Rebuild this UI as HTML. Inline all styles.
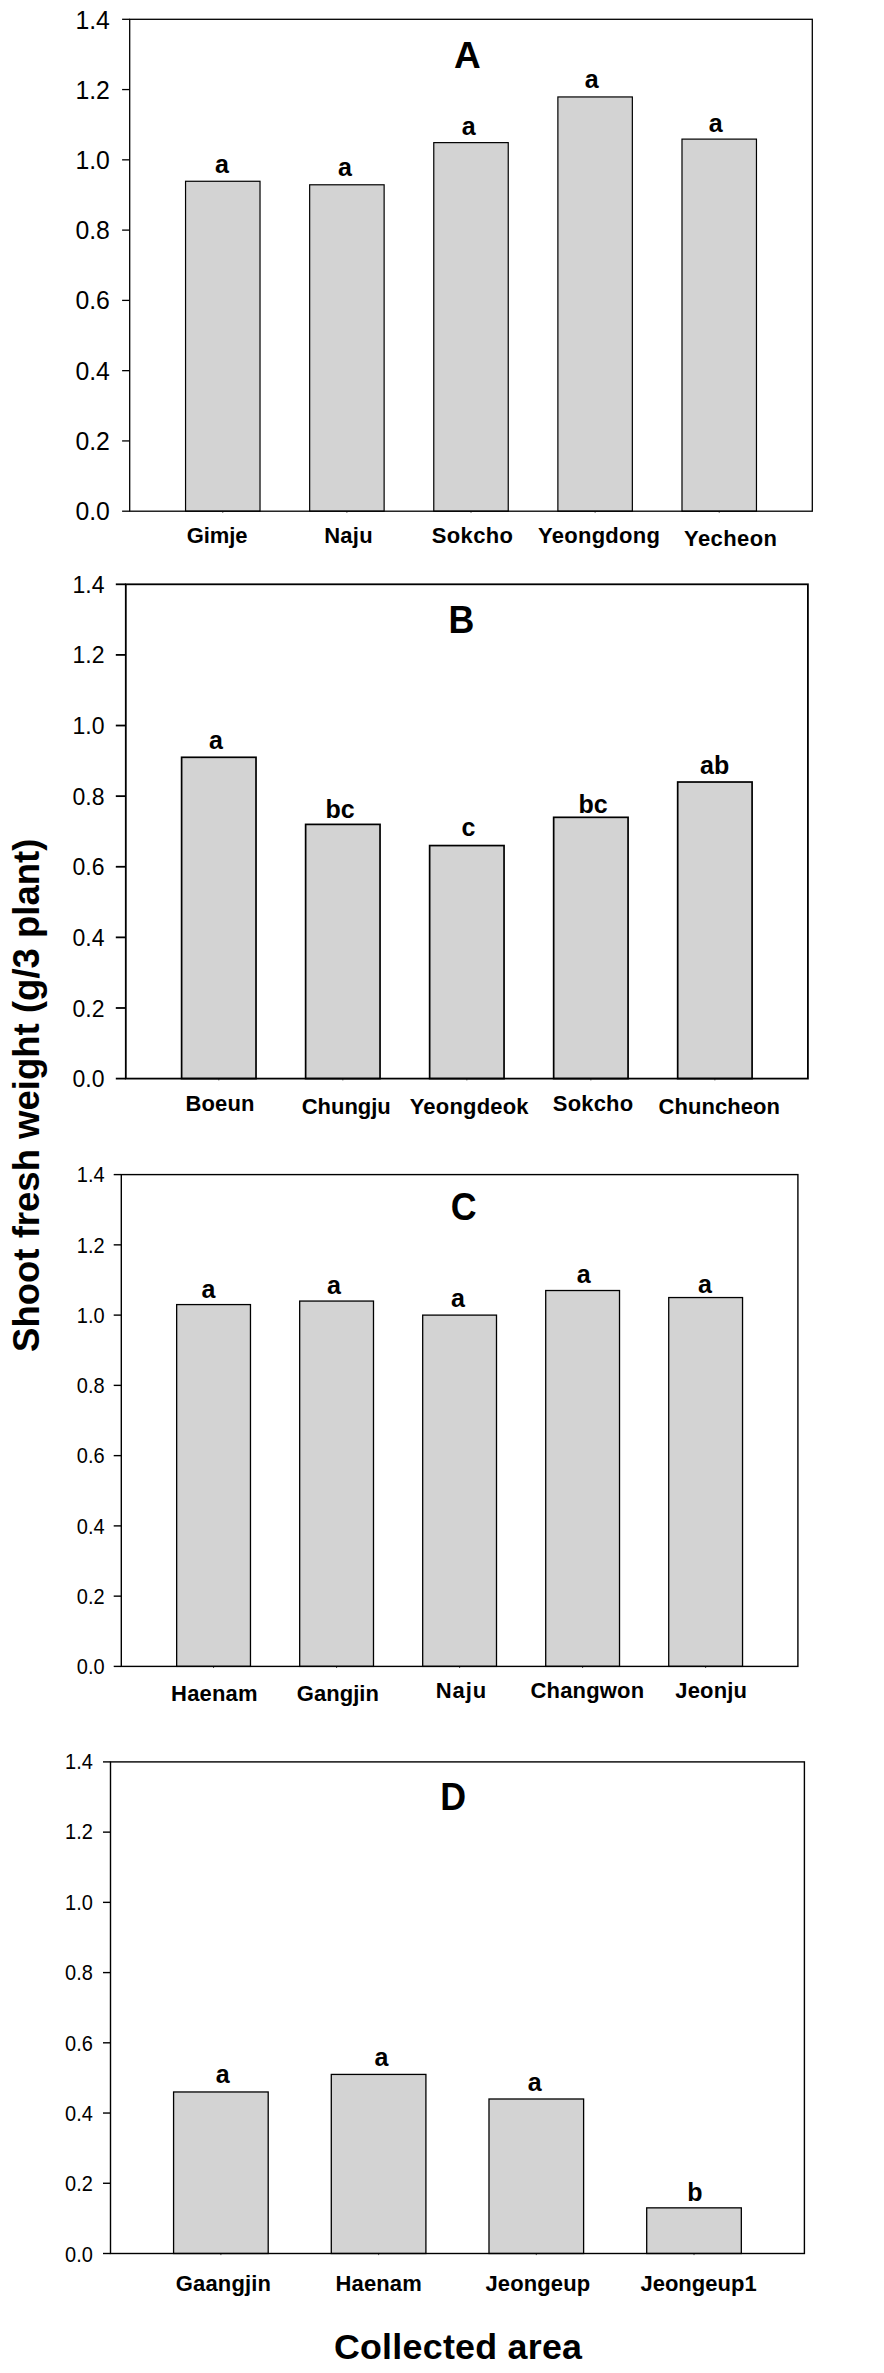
<!DOCTYPE html>
<html lang="en">
<head>
<meta charset="utf-8">
<title>Shoot fresh weight by collected area</title>
<style>
html,body{margin:0;padding:0;background:#fff;}
body{width:884px;height:2373px;overflow:hidden;}
svg{display:block;}
text{font-family:"Liberation Sans", sans-serif;fill:#000;}
.b{font-weight:bold;}
</style>
</head>
<body>
<svg width="884" height="2373" viewBox="0 0 884 2373">
<rect x="0" y="0" width="884" height="2373" fill="#ffffff"/>
<g id="chartA">
<rect x="185.55" y="181.27" width="74.47" height="329.93" fill="#d3d3d3" stroke="#000" stroke-width="1.20"/>
<rect x="309.66" y="184.79" width="74.47" height="326.41" fill="#d3d3d3" stroke="#000" stroke-width="1.20"/>
<rect x="433.77" y="142.62" width="74.47" height="368.58" fill="#d3d3d3" stroke="#000" stroke-width="1.20"/>
<rect x="557.88" y="96.95" width="74.47" height="414.25" fill="#d3d3d3" stroke="#000" stroke-width="1.20"/>
<rect x="681.99" y="139.11" width="74.47" height="372.09" fill="#d3d3d3" stroke="#000" stroke-width="1.20"/>
<line x1="222.78" y1="511.20" x2="222.78" y2="512.75" stroke="#444" stroke-width="1"/>
<line x1="346.89" y1="511.20" x2="346.89" y2="512.75" stroke="#444" stroke-width="1"/>
<line x1="471.00" y1="511.20" x2="471.00" y2="512.75" stroke="#444" stroke-width="1"/>
<line x1="595.11" y1="511.20" x2="595.11" y2="512.75" stroke="#444" stroke-width="1"/>
<line x1="719.22" y1="511.20" x2="719.22" y2="512.75" stroke="#444" stroke-width="1"/>
<rect x="129.70" y="19.30" width="682.60" height="491.90" fill="none" stroke="#000" stroke-width="1.30"/>
<line x1="122.10" y1="511.20" x2="129.70" y2="511.20" stroke="#000" stroke-width="1.30"/>
<text transform="translate(109.91,519.82) scale(1,1.045)" font-size="24.80" text-anchor="end">0.0</text>
<line x1="122.10" y1="440.93" x2="129.70" y2="440.93" stroke="#000" stroke-width="1.30"/>
<text transform="translate(109.91,449.69) scale(1,1.045)" font-size="24.80" text-anchor="end">0.2</text>
<line x1="122.10" y1="370.66" x2="129.70" y2="370.66" stroke="#000" stroke-width="1.30"/>
<text transform="translate(109.91,379.57) scale(1,1.045)" font-size="24.80" text-anchor="end">0.4</text>
<line x1="122.10" y1="300.39" x2="129.70" y2="300.39" stroke="#000" stroke-width="1.30"/>
<text transform="translate(109.91,309.45) scale(1,1.045)" font-size="24.80" text-anchor="end">0.6</text>
<line x1="122.10" y1="230.11" x2="129.70" y2="230.11" stroke="#000" stroke-width="1.30"/>
<text transform="translate(109.91,239.33) scale(1,1.045)" font-size="24.80" text-anchor="end">0.8</text>
<line x1="122.10" y1="159.84" x2="129.70" y2="159.84" stroke="#000" stroke-width="1.30"/>
<text transform="translate(109.91,169.21) scale(1,1.045)" font-size="24.80" text-anchor="end">1.0</text>
<line x1="122.10" y1="89.57" x2="129.70" y2="89.57" stroke="#000" stroke-width="1.30"/>
<text transform="translate(109.91,99.09) scale(1,1.045)" font-size="24.80" text-anchor="end">1.2</text>
<line x1="122.10" y1="19.30" x2="129.70" y2="19.30" stroke="#000" stroke-width="1.30"/>
<text transform="translate(109.91,28.97) scale(1,1.045)" font-size="24.80" text-anchor="end">1.4</text>
<text class="b" x="221.84" y="173.20" font-size="25.00" text-anchor="middle">a</text>
<text class="b" transform="translate(186.75,543.00) scale(1,1.015)" font-size="22.00" letter-spacing="-0.083">Gimje</text>
<text class="b" x="344.84" y="176.40" font-size="25.00" text-anchor="middle">a</text>
<text class="b" transform="translate(324.20,542.80) scale(1,1.015)" font-size="22.00" letter-spacing="0.254">Naju</text>
<text class="b" x="468.72" y="135.20" font-size="25.00" text-anchor="middle">a</text>
<text class="b" transform="translate(431.63,543.00) scale(1,1.015)" font-size="22.00" letter-spacing="0.398">Sokcho</text>
<text class="b" x="591.72" y="87.75" font-size="25.00" text-anchor="middle">a</text>
<text class="b" transform="translate(538.08,542.80) scale(1,1.015)" font-size="22.00" letter-spacing="0.262">Yeongdong</text>
<text class="b" x="715.72" y="131.90" font-size="25.00" text-anchor="middle">a</text>
<text class="b" transform="translate(684.08,545.50) scale(1,1.015)" font-size="22.00" letter-spacing="0.409">Yecheon</text>
<text class="b" transform="translate(467.36,67.85) scale(1,1.010)" font-size="37.00" text-anchor="middle">A</text>
</g>
<g id="chartB">
<rect x="181.61" y="757.30" width="74.41" height="321.30" fill="#d3d3d3" stroke="#000" stroke-width="1.70"/>
<rect x="305.63" y="824.39" width="74.41" height="254.21" fill="#d3d3d3" stroke="#000" stroke-width="1.70"/>
<rect x="429.64" y="845.57" width="74.41" height="233.03" fill="#d3d3d3" stroke="#000" stroke-width="1.70"/>
<rect x="553.66" y="817.33" width="74.41" height="261.27" fill="#d3d3d3" stroke="#000" stroke-width="1.70"/>
<rect x="677.68" y="782.02" width="74.41" height="296.58" fill="#d3d3d3" stroke="#000" stroke-width="1.70"/>
<line x1="218.81" y1="1078.60" x2="218.81" y2="1080.40" stroke="#444" stroke-width="1"/>
<line x1="342.83" y1="1078.60" x2="342.83" y2="1080.40" stroke="#444" stroke-width="1"/>
<line x1="466.85" y1="1078.60" x2="466.85" y2="1080.40" stroke="#444" stroke-width="1"/>
<line x1="590.87" y1="1078.60" x2="590.87" y2="1080.40" stroke="#444" stroke-width="1"/>
<line x1="714.89" y1="1078.60" x2="714.89" y2="1080.40" stroke="#444" stroke-width="1"/>
<rect x="125.80" y="584.30" width="682.10" height="494.30" fill="none" stroke="#000" stroke-width="1.80"/>
<line x1="115.80" y1="1078.60" x2="125.80" y2="1078.60" stroke="#000" stroke-width="1.80"/>
<text transform="translate(104.48,1087.11) scale(1,1.000)" font-size="23.00" text-anchor="end">0.0</text>
<line x1="115.80" y1="1007.99" x2="125.80" y2="1007.99" stroke="#000" stroke-width="1.80"/>
<text transform="translate(104.48,1016.50) scale(1,1.000)" font-size="23.00" text-anchor="end">0.2</text>
<line x1="115.80" y1="937.37" x2="125.80" y2="937.37" stroke="#000" stroke-width="1.80"/>
<text transform="translate(104.48,945.88) scale(1,1.000)" font-size="23.00" text-anchor="end">0.4</text>
<line x1="115.80" y1="866.76" x2="125.80" y2="866.76" stroke="#000" stroke-width="1.80"/>
<text transform="translate(104.48,875.27) scale(1,1.000)" font-size="23.00" text-anchor="end">0.6</text>
<line x1="115.80" y1="796.14" x2="125.80" y2="796.14" stroke="#000" stroke-width="1.80"/>
<text transform="translate(104.48,804.65) scale(1,1.000)" font-size="23.00" text-anchor="end">0.8</text>
<line x1="115.80" y1="725.53" x2="125.80" y2="725.53" stroke="#000" stroke-width="1.80"/>
<text transform="translate(104.48,734.04) scale(1,1.000)" font-size="23.00" text-anchor="end">1.0</text>
<line x1="115.80" y1="654.91" x2="125.80" y2="654.91" stroke="#000" stroke-width="1.80"/>
<text transform="translate(104.48,663.43) scale(1,1.000)" font-size="23.00" text-anchor="end">1.2</text>
<line x1="115.80" y1="584.30" x2="125.80" y2="584.30" stroke="#000" stroke-width="1.80"/>
<text transform="translate(104.48,592.81) scale(1,1.000)" font-size="23.00" text-anchor="end">1.4</text>
<text class="b" x="215.93" y="749.40" font-size="25.00" text-anchor="middle">a</text>
<text class="b" transform="translate(185.52,1110.80) scale(1,1.015)" font-size="22.00" letter-spacing="0.120">Boeun</text>
<text class="b" x="339.99" y="817.60" font-size="25.00" text-anchor="middle">bc</text>
<text class="b" transform="translate(301.74,1113.80) scale(1,1.015)" font-size="22.00" letter-spacing="-0.020">Chungju</text>
<text class="b" x="468.45" y="835.80" font-size="25.00" text-anchor="middle">c</text>
<text class="b" transform="translate(409.68,1113.70) scale(1,1.015)" font-size="22.00" letter-spacing="0.198">Yeongdeok</text>
<text class="b" x="592.99" y="813.40" font-size="25.00" text-anchor="middle">bc</text>
<text class="b" transform="translate(552.80,1111.00) scale(1,1.015)" font-size="22.00" letter-spacing="0.170">Sokcho</text>
<text class="b" x="714.58" y="774.20" font-size="25.00" text-anchor="middle">ab</text>
<text class="b" transform="translate(658.48,1113.70) scale(1,1.015)" font-size="22.00" letter-spacing="0.063">Chuncheon</text>
<text class="b" transform="translate(461.44,632.85) scale(1,1.065)" font-size="35.80" text-anchor="middle">B</text>
</g>
<g id="chartC">
<rect x="176.66" y="1304.58" width="73.81" height="361.82" fill="#d3d3d3" stroke="#000" stroke-width="1.30"/>
<rect x="299.68" y="1301.06" width="73.81" height="365.34" fill="#d3d3d3" stroke="#000" stroke-width="1.30"/>
<rect x="422.69" y="1315.11" width="73.81" height="351.29" fill="#d3d3d3" stroke="#000" stroke-width="1.30"/>
<rect x="545.71" y="1290.52" width="73.81" height="375.88" fill="#d3d3d3" stroke="#000" stroke-width="1.30"/>
<rect x="668.73" y="1297.55" width="73.81" height="368.85" fill="#d3d3d3" stroke="#000" stroke-width="1.30"/>
<line x1="213.56" y1="1666.40" x2="213.56" y2="1668.00" stroke="#444" stroke-width="1"/>
<line x1="336.58" y1="1666.40" x2="336.58" y2="1668.00" stroke="#444" stroke-width="1"/>
<line x1="459.60" y1="1666.40" x2="459.60" y2="1668.00" stroke="#444" stroke-width="1"/>
<line x1="582.62" y1="1666.40" x2="582.62" y2="1668.00" stroke="#444" stroke-width="1"/>
<line x1="705.64" y1="1666.40" x2="705.64" y2="1668.00" stroke="#444" stroke-width="1"/>
<rect x="121.30" y="1174.60" width="676.60" height="491.80" fill="none" stroke="#000" stroke-width="1.40"/>
<line x1="113.70" y1="1666.40" x2="121.30" y2="1666.40" stroke="#000" stroke-width="1.40"/>
<text transform="translate(104.57,1674.29) scale(1,1.060)" font-size="20.00" text-anchor="end">0.0</text>
<line x1="113.70" y1="1596.14" x2="121.30" y2="1596.14" stroke="#000" stroke-width="1.40"/>
<text transform="translate(104.57,1604.01) scale(1,1.060)" font-size="20.00" text-anchor="end">0.2</text>
<line x1="113.70" y1="1525.89" x2="121.30" y2="1525.89" stroke="#000" stroke-width="1.40"/>
<text transform="translate(104.57,1533.72) scale(1,1.060)" font-size="20.00" text-anchor="end">0.4</text>
<line x1="113.70" y1="1455.63" x2="121.30" y2="1455.63" stroke="#000" stroke-width="1.40"/>
<text transform="translate(104.57,1463.44) scale(1,1.060)" font-size="20.00" text-anchor="end">0.6</text>
<line x1="113.70" y1="1385.37" x2="121.30" y2="1385.37" stroke="#000" stroke-width="1.40"/>
<text transform="translate(104.57,1393.15) scale(1,1.060)" font-size="20.00" text-anchor="end">0.8</text>
<line x1="113.70" y1="1315.11" x2="121.30" y2="1315.11" stroke="#000" stroke-width="1.40"/>
<text transform="translate(104.57,1322.86) scale(1,1.060)" font-size="20.00" text-anchor="end">1.0</text>
<line x1="113.70" y1="1244.86" x2="121.30" y2="1244.86" stroke="#000" stroke-width="1.40"/>
<text transform="translate(104.57,1252.58) scale(1,1.060)" font-size="20.00" text-anchor="end">1.2</text>
<line x1="113.70" y1="1174.60" x2="121.30" y2="1174.60" stroke="#000" stroke-width="1.40"/>
<text transform="translate(104.57,1182.29) scale(1,1.060)" font-size="20.00" text-anchor="end">1.4</text>
<text class="b" x="208.43" y="1297.70" font-size="25.00" text-anchor="middle">a</text>
<text class="b" transform="translate(171.12,1700.80) scale(1,1.015)" font-size="22.00" letter-spacing="0.164">Haenam</text>
<text class="b" x="333.93" y="1293.50" font-size="25.00" text-anchor="middle">a</text>
<text class="b" transform="translate(296.75,1700.80) scale(1,1.015)" font-size="22.00" letter-spacing="0.060">Gangjin</text>
<text class="b" x="457.84" y="1307.10" font-size="25.00" text-anchor="middle">a</text>
<text class="b" transform="translate(435.84,1697.70) scale(1,1.015)" font-size="22.00" letter-spacing="0.902">Naju</text>
<text class="b" x="583.72" y="1282.50" font-size="25.00" text-anchor="middle">a</text>
<text class="b" transform="translate(530.46,1697.80) scale(1,1.015)" font-size="22.00" letter-spacing="0.177">Changwon</text>
<text class="b" x="704.93" y="1292.60" font-size="25.00" text-anchor="middle">a</text>
<text class="b" transform="translate(675.34,1697.80) scale(1,1.015)" font-size="22.00" letter-spacing="0.151">Jeonju</text>
<text class="b" transform="translate(463.70,1219.60) scale(1,1.065)" font-size="35.80" text-anchor="middle">C</text>
</g>
<g id="chartD">
<rect x="173.58" y="2091.97" width="94.62" height="161.53" fill="#d3d3d3" stroke="#000" stroke-width="1.30"/>
<rect x="331.29" y="2074.42" width="94.62" height="179.08" fill="#d3d3d3" stroke="#000" stroke-width="1.30"/>
<rect x="488.99" y="2099.00" width="94.62" height="154.50" fill="#d3d3d3" stroke="#000" stroke-width="1.30"/>
<rect x="646.70" y="2207.85" width="94.62" height="45.65" fill="#d3d3d3" stroke="#000" stroke-width="1.30"/>
<line x1="220.89" y1="2253.50" x2="220.89" y2="2255.10" stroke="#444" stroke-width="1"/>
<line x1="378.60" y1="2253.50" x2="378.60" y2="2255.10" stroke="#444" stroke-width="1"/>
<line x1="536.30" y1="2253.50" x2="536.30" y2="2255.10" stroke="#444" stroke-width="1"/>
<line x1="694.01" y1="2253.50" x2="694.01" y2="2255.10" stroke="#444" stroke-width="1"/>
<rect x="110.50" y="1761.90" width="693.90" height="491.60" fill="none" stroke="#000" stroke-width="1.40"/>
<line x1="103.00" y1="2253.50" x2="110.50" y2="2253.50" stroke="#000" stroke-width="1.40"/>
<text transform="translate(92.89,2261.74) scale(1,1.060)" font-size="20.00" text-anchor="end">0.0</text>
<line x1="103.00" y1="2183.27" x2="110.50" y2="2183.27" stroke="#000" stroke-width="1.40"/>
<text transform="translate(92.89,2191.35) scale(1,1.060)" font-size="20.00" text-anchor="end">0.2</text>
<line x1="103.00" y1="2113.04" x2="110.50" y2="2113.04" stroke="#000" stroke-width="1.40"/>
<text transform="translate(92.89,2120.95) scale(1,1.060)" font-size="20.00" text-anchor="end">0.4</text>
<line x1="103.00" y1="2042.81" x2="110.50" y2="2042.81" stroke="#000" stroke-width="1.40"/>
<text transform="translate(92.89,2050.55) scale(1,1.060)" font-size="20.00" text-anchor="end">0.6</text>
<line x1="103.00" y1="1972.59" x2="110.50" y2="1972.59" stroke="#000" stroke-width="1.40"/>
<text transform="translate(92.89,1980.15) scale(1,1.060)" font-size="20.00" text-anchor="end">0.8</text>
<line x1="103.00" y1="1902.36" x2="110.50" y2="1902.36" stroke="#000" stroke-width="1.40"/>
<text transform="translate(92.89,1909.76) scale(1,1.060)" font-size="20.00" text-anchor="end">1.0</text>
<line x1="103.00" y1="1832.13" x2="110.50" y2="1832.13" stroke="#000" stroke-width="1.40"/>
<text transform="translate(92.89,1839.36) scale(1,1.060)" font-size="20.00" text-anchor="end">1.2</text>
<line x1="103.00" y1="1761.90" x2="110.50" y2="1761.90" stroke="#000" stroke-width="1.40"/>
<text transform="translate(92.89,1768.96) scale(1,1.060)" font-size="20.00" text-anchor="end">1.4</text>
<text class="b" x="222.69" y="2082.80" font-size="25.00" text-anchor="middle">a</text>
<text class="b" transform="translate(175.75,2290.80) scale(1,1.015)" font-size="22.00" letter-spacing="0.169">Gaangjin</text>
<text class="b" x="381.47" y="2066.40" font-size="25.00" text-anchor="middle">a</text>
<text class="b" transform="translate(335.52,2291.00) scale(1,1.015)" font-size="22.00" letter-spacing="0.132">Haenam</text>
<text class="b" x="534.72" y="2091.00" font-size="25.00" text-anchor="middle">a</text>
<text class="b" transform="translate(485.42,2290.80) scale(1,1.015)" font-size="22.00" letter-spacing="0.137">Jeongeup</text>
<text class="b" x="694.97" y="2201.10" font-size="25.00" text-anchor="middle">b</text>
<text class="b" transform="translate(640.42,2290.80) scale(1,1.015)" font-size="22.00" letter-spacing="0.018">Jeongeup1</text>
<text class="b" transform="translate(453.25,1809.75) scale(1,1.065)" font-size="35.80" text-anchor="middle">D</text>
</g>
<text class="b" transform="translate(39.4,1351.95) rotate(-90) scale(1,1.020)" font-size="36.50" letter-spacing="0.016">Shoot fresh weight (g/3 plant)</text>
<text class="b" transform="translate(333.88,2359.2) scale(1,1.000)" font-size="35.80" letter-spacing="0.263">Collected area</text>
</svg>
</body>
</html>
